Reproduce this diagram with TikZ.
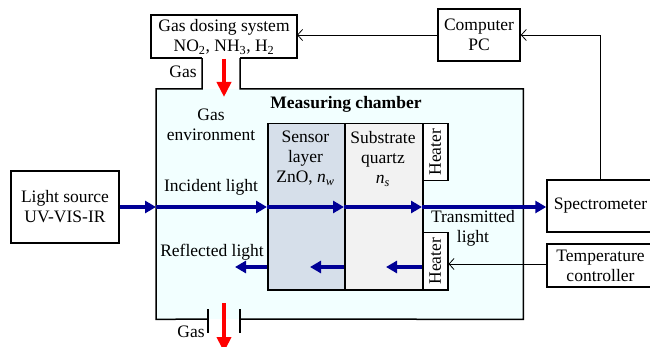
\documentclass[tikz,border=0pt]{standalone}
\usepackage{fontspec}
\setmainfont{Liberation Serif}
\usetikzlibrary{arrows.meta,calc}
\definecolor{chfill}{RGB}{242,255,255}
\definecolor{slfill}{RGB}{214,223,234}
\definecolor{subfill}{RGB}{242,242,242}
\definecolor{lblue}{RGB}{0,0,150}
\begin{document}
\begin{tikzpicture}[x=1pt,y=-1pt, font=\fontsize{17.5}{20}\selectfont,
 box/.style={draw, line width=1.5pt, fill=white, inner sep=0pt, align=center},
 thinarrow/.style={line width=0.8pt, -{Straight Barb[length=5pt,width=11pt]}},
 bluearrow/.style={lblue, line width=3.5pt, -{Triangle[length=11pt,width=12pt]}},
 redarrow/.style={red, line width=4.5pt, -{Triangle[length=15pt,width=14pt]}},
 wall/.style={line width=1.5pt},
 lbl/.style={align=center, inner sep=0pt}]
\useasboundingbox (0,0) rectangle (650,347);
\clip (0,0) rectangle (650,347);
% chamber
\node[fill=chfill, minimum width=367pt, minimum height=230pt, inner sep=0pt, anchor=north west] (ch) at (156,89) {};
\draw[wall] (202,58) -- (202,89) -- (ch.north west) -- (ch.south west) -- (208,319);
\draw[wall] (208,309) -- (208,333);
\draw[wall] (240,309) -- (240,333);
\draw[wall] (240,319) -- (ch.south east) -- (ch.north east) -- (240,89) -- (240,58);
% gas dosing box
\draw[wall, fill=white] (202,58) -- (151,58) -- (151,15) -- (297,15) -- (297,58) -- (240,58);
\node[lbl] (gds) at (224,37) {Gas dosing system\\NO\textsubscript{2}, NH\textsubscript{3}, H\textsubscript{2}};
\coordinate (gdsE) at (297,35);
% computer
\node[box, minimum width=82pt, minimum height=52pt] (pc) at (479,35) {Computer\\PC};
% light source
\node[box, minimum width=108pt, minimum height=72pt] (ls) at (65,207) {Light source\\UV-VIS-IR};
% spectrometer, temperature controller
\node[box, minimum width=107pt, minimum height=52pt] (sp) at (600.5,206) {Spectrometer};
\node[box, minimum width=107pt, minimum height=43pt] (tc) at (600.5,265.5) {Temperature\\controller};
% sample layers
\node[draw, wall, fill=slfill, minimum width=77pt, minimum height=166pt, inner sep=0pt, anchor=north west] (sl) at (267,123) {};
\node[draw, wall, fill=subfill, minimum width=78pt, minimum height=166pt, inner sep=0pt, anchor=north west] (sub) at (344,123) {};
\node[box, minimum width=25pt, minimum height=57pt, anchor=north west] (ht1) at (422,123) {\rotatebox{90}{Heater}};
\node[box, minimum width=25pt, minimum height=57pt, anchor=north west] (ht2) at (422,232) {\rotatebox{90}{Heater}};
% labels
\node[lbl] (slt) at (305.5,158) {Sensor\\layer\\ZnO, \textit{n}\textsubscript{\textit{w}}};
\node[lbl] (subt) at (383,159) {Substrate\\quartz\\\textit{n}\textsubscript{\textit{s}}};
\node[lbl] (gast) at (183,72) {Gas};
\node[lbl] (genv) at (211,125) {Gas\\environment};
\node[lbl, font=\fontsize{17.5}{20}\selectfont\bfseries] (mc) at (346,104) {Measuring chamber};
\node[lbl] (inc) at (211,187) {Incident light};
\node[lbl] (refl) at (212,252) {Reflected light};
\node[lbl] (trans) at (473,228) {Transmitted\\light};
\node[lbl] (gasb) at (191,332) {Gas};
% thin connectors
\draw[thinarrow] (pc.west) -- (gdsE);
\draw[thinarrow] (sp.north) |- (pc.east);
\coordinate (tcy) at (0,264);
\draw[thinarrow] (tc.west |- tcy) -- (ht2.east |- tcy);
% light path
\draw[bluearrow] (ls.east) -- (ls.east -| ch.west);
\draw[bluearrow] (ls.east -| ch.west) -- (ls.east -| sl.west);
\draw[bluearrow] (ls.east -| sl.west) -- (ls.east -| sub.west);
\draw[bluearrow] (ls.east -| sub.west) -- (ls.east -| ht1.west);
\draw[bluearrow] (ls.east -| ht1.west) -- (sp.west |- ls.east);
\coordinate (r1) at (235,267);
\coordinate (r2) at (310,267);
\coordinate (r3) at (386,267);
\draw[bluearrow] (sl.west |- r1) -- (r1);
\draw[bluearrow] (sub.west |- r2) -- (r2);
\draw[bluearrow] (ht2.west |- r3) -- (r3);
% gas flow
\coordinate (gin0) at (224,59);
\coordinate (gin1) at (224,97);
\coordinate (gout0) at (224,303);
\coordinate (gout1) at (224,352);
\draw[redarrow] (gin0) -- (gin1);
\draw[redarrow] (gout0) -- (gout1);
\end{tikzpicture}
\end{document}
